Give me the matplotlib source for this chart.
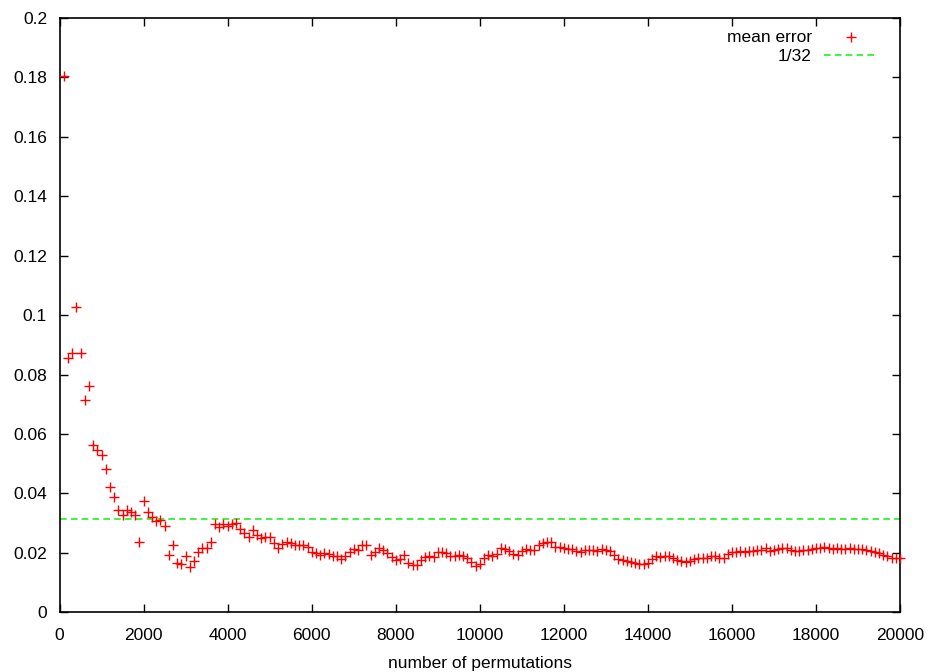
import matplotlib
matplotlib.use("Agg")
import matplotlib.pyplot as plt
from matplotlib.ticker import FuncFormatter, MultipleLocator

# x values: permutations, every 100 from 100 to 20000
perms = list(range(100, 20001, 100))

mean_error = [
    # 100 - 1000
    0.1806, 0.0857, 0.0874, 0.1029, 0.0874, 0.0716, 0.0763, 0.0564, 0.0547, 0.0531,
    # 1100 - 2000
    0.0482, 0.0422, 0.0387, 0.0345, 0.0328, 0.0343, 0.0339, 0.0328, 0.0236, 0.0376,
    # 2100 - 3000
    0.0339, 0.0322, 0.0306, 0.0311, 0.0292, 0.0193, 0.0227, 0.0167, 0.0163, 0.0190,
    # 3100 - 4000
    0.0154, 0.0171, 0.0204, 0.0216, 0.0218, 0.0236, 0.0297, 0.0286, 0.0297, 0.0289,
    # 4100 - 5000
    0.0297, 0.0302, 0.0279, 0.0266, 0.0254, 0.0278, 0.0261, 0.0250, 0.0255, 0.0255,
    # 5100 - 6000
    0.0233, 0.0218, 0.0230, 0.0236, 0.0233, 0.0227, 0.0225, 0.0225, 0.0219, 0.0204,
    # 6100 - 7000
    0.0199, 0.0193, 0.0199, 0.0197, 0.0188, 0.0188, 0.0180, 0.0188, 0.0204, 0.0213,
    # 7100 - 8000
    0.0210, 0.0227, 0.0227, 0.0193, 0.0204, 0.0216, 0.0210, 0.0199, 0.0185, 0.0176,
    # 8100 - 9000
    0.0179, 0.0193, 0.0165, 0.0160, 0.0160, 0.0176, 0.0185, 0.0188, 0.0185, 0.0202,
    # 9100 - 10000
    0.0204, 0.0199, 0.0191, 0.0188, 0.0193, 0.0191, 0.0182, 0.0168, 0.0157, 0.0162,
    # 10100 - 11000
    0.0182, 0.0193, 0.0191, 0.0195, 0.0216, 0.0214, 0.0205, 0.0195, 0.0193, 0.0205,
    # 11100 - 12000
    0.0214, 0.0210, 0.0210, 0.0227, 0.0233, 0.0238, 0.0236, 0.0221, 0.0219, 0.0216,
    # 12100 - 13000
    0.0214, 0.0214, 0.0205, 0.0202, 0.0210, 0.0210, 0.0210, 0.0207, 0.0214, 0.0210,
    # 13100 - 14000
    0.0205, 0.0193, 0.0179, 0.0176, 0.0173, 0.0168, 0.0165, 0.0162, 0.0162, 0.0165,
    # 14100 - 15000
    0.0180, 0.0188, 0.0185, 0.0188, 0.0188, 0.0182, 0.0176, 0.0173, 0.0168, 0.0173,
    # 15100 - 16000
    0.0179, 0.0182, 0.0182, 0.0182, 0.0188, 0.0188, 0.0184, 0.0182, 0.0195, 0.0202,
    # 16100 - 17000
    0.0202, 0.0205, 0.0202, 0.0207, 0.0207, 0.0210, 0.0210, 0.0216, 0.0207, 0.0210,
    # 17100 - 18000
    0.0214, 0.0218, 0.0218, 0.0210, 0.0207, 0.0207, 0.0210, 0.0210, 0.0214, 0.0216,
    # 18100 - 19000
    0.0218, 0.0221, 0.0218, 0.0214, 0.0216, 0.0214, 0.0214, 0.0216, 0.0214, 0.0214,
    # 19100 - 20000
    0.0214, 0.0210, 0.0207, 0.0202, 0.0199, 0.0193, 0.0188, 0.0184, 0.0184, 0.0182,
]

ref_value = 1.0 / 32
series_labels = ["mean error", "1/32"]
x_label = "number of permutations"

plt.rcParams['font.family'] = ['Liberation Sans', 'DejaVu Sans']
FS = 12.5
plt.rcParams['font.size'] = FS

W, H = 931, 672
fig = plt.figure(figsize=(W / 100, H / 100), dpi=100)
left, right, top, bottom = 59.6, 900.0, 18.0, 612.3
ax = fig.add_axes([left / W, 1 - bottom / H, (right - left) / W, (bottom - top) / H])

red = '#ff0000'
green = '#22f022'

ax.plot(perms, mean_error, linestyle='none', marker='+', color=red,
        markersize=7, markeredgewidth=1.0, clip_on=False, zorder=3)
ax.axhline(ref_value, color=green, linestyle=(0, (4, 2.5)), linewidth=1.2, zorder=2)

ax.set_xlim(0, 20000)
ax.set_ylim(0, 0.2)
ax.xaxis.set_major_locator(MultipleLocator(2000))
ax.yaxis.set_major_locator(MultipleLocator(0.02))
ax.yaxis.set_major_formatter(FuncFormatter(lambda v, p: ('%.2f' % v).rstrip('0').rstrip('.') if abs(v) > 1e-12 else '0'))
ax.xaxis.set_major_formatter(FuncFormatter(lambda v, p: '%d' % round(v)))

ax.tick_params(direction='in', length=6, width=1.0, top=True, right=True,
               labelsize=FS, colors='black')
ax.tick_params(axis='x', pad=11)
ax.tick_params(axis='y', pad=9)
for s in ax.spines.values():
    s.set_linewidth(1.2)
    s.set_color('black')

ax.set_xlabel(x_label, fontsize=FS, labelpad=10)

# legend drawn gnuplot-style (right-aligned text, sample to the right)
ax.text(0.895, 0.9665, series_labels[0], transform=ax.transAxes, ha='right', va='center', fontsize=FS)
ax.plot([0.9417], [0.9685], transform=ax.transAxes, marker='+', color=red,
        markersize=7, markeredgewidth=1.0, linestyle='none', clip_on=False)
ax.text(0.895, 0.9357, series_labels[1], transform=ax.transAxes, ha='right', va='center', fontsize=FS)
ax.plot([0.9096, 0.9726], [0.9377, 0.9377], transform=ax.transAxes, color=green,
        linestyle=(0, (4, 2.5)), linewidth=1.2)

fig.savefig('out.png', dpi=100)
